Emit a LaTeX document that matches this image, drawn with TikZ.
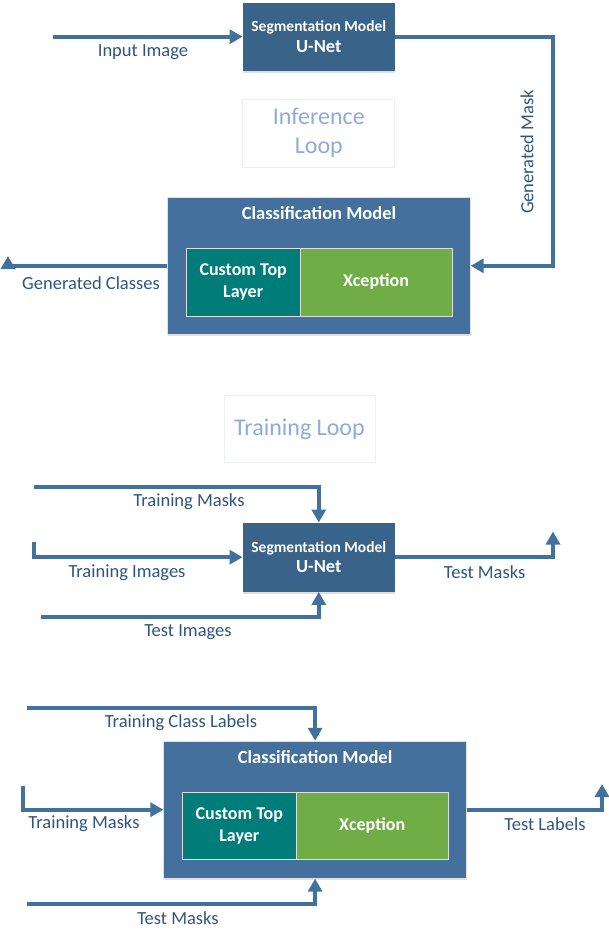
\documentclass[tikz,border=0pt]{standalone}
\usepackage{fontspec}
\setmainfont{Carlito}
\usetikzlibrary{arrows.meta,shadows}
\definecolor{segblue}{RGB}{58,99,138}
\definecolor{clsblue}{RGB}{67,112,157}
\definecolor{linecol}{RGB}{65,113,156}
\definecolor{tealc}{RGB}{0,124,121}
\definecolor{greenc}{RGB}{112,173,71}
\definecolor{labcol}{RGB}{46,84,130}
\definecolor{loopcol}{RGB}{143,170,220}
\definecolor{loopborder}{RGB}{236,239,243}
\tikzset{
  segbox/.style={fill=segblue, draw=none, minimum width=152pt, minimum height=68pt, inner sep=0pt,
    text=white, font=\bfseries, align=center,
    drop shadow={shadow xshift=0pt, shadow yshift=-2pt, fill=black!25, opacity=0.5}},
  clsbox/.style={fill=clsblue, draw=black!12, line width=0.6pt, minimum width=302.8pt, minimum height=137pt, inner sep=0pt,
    drop shadow={shadow xshift=0pt, shadow yshift=-2pt, fill=black!25, opacity=0.5}},
  tealbox/.style={fill=tealc, draw=white!75!gray, line width=0.8pt, minimum width=113.8pt, minimum height=68pt, inner sep=0pt,
    text=white, font=\fontsize{18}{22}\selectfont\bfseries, align=center},
  greenbox/.style={fill=greenc, draw=white!75!gray, line width=0.8pt, minimum width=152pt, minimum height=68pt, inner sep=0pt,
    text=white, font=\fontsize{18}{22}\selectfont\bfseries, align=center},
  loopbox/.style={draw=loopborder, line width=1pt, fill=white, inner sep=0pt, text=loopcol,
    font=\fontsize{24}{29}\selectfont, align=center},
  lab/.style={text=labcol, font=\fontsize{18.5}{20}\selectfont, inner sep=0pt},
  cltitle/.style={text=white, font=\fontsize{18.5}{20}\selectfont\bfseries, inner sep=0pt},
  conn/.style={draw=linecol, line width=4pt},
  arr/.style={conn, -{Triangle[length=13pt,width=14pt]}},
}
\newcommand{\segtext}{\fontsize{15.5}{20}\selectfont Segmentation Model\\[5pt]\fontsize{18.5}{20}\selectfont U-Net}
\begin{document}
\begin{tikzpicture}[x=1pt,y=-1pt]
\useasboundingbox (0,0) rectangle (608,940);
% ---------- Inference loop ----------
\node[segbox] (seg1) at (318.8,36.7) {\segtext};
\node[loopbox, minimum width=152pt, minimum height=68pt] (inf) at (318.8,133) {Inference\\Loop};
\node[clsbox] (cls1) at (319,265.8) {};
\node[cltitle] (cls1t) at (319,213.3) {Classification Model};
\node[tealbox] (teal1) at (243.2,282) {Custom Top\\Layer};
\node[greenbox] (green1) at (376,282) {Xception};

\coordinate (in1) at (52.6,36.7);
\coordinate (gm1) at (553,36.7);
\coordinate (gm2) at (553,265.8);
\coordinate (gc1) at (8,265.8);
\coordinate (gc2) at (8,256);
\draw[arr] (in1) -- (seg1.west);
\draw[arr] (seg1.east) -- (gm1) -- (gm2) -- (cls1.east);
\draw[arr] (cls1.west) -- (gc1) -- (gc2);
\node[lab] (l1) at (143,52) {Input Image};
\node[lab, rotate=90] (l2) at (527,152) {Generated Mask};
\node[lab] (l3) at (91,283) {Generated Classes};

% ---------- Training loop ----------
\node[loopbox, minimum width=151pt, minimum height=67.7pt] (tr) at (299.5,428.9) {Training Loop};
\node[segbox, minimum height=69pt] (seg2) at (318.8,557.2) {\segtext};

\coordinate (tm1) at (34,487.3);
\coordinate (tm2) at (318.8,487.3);
\coordinate (ti1) at (34.3,541.7);
\coordinate (ti2) at (34.3,557.2);
\coordinate (te1) at (41,617.3);
\coordinate (te2) at (318.8,617.3);
\coordinate (to1) at (553,557.2);
\coordinate (to2) at (553,531.5);
\draw[arr] (tm1) -- (tm2) -- (seg2.north);
\draw[arr] (ti1) -- (ti2) -- (seg2.west);
\draw[arr] (te1) -- (te2) -- (seg2.south);
\draw[arr] (seg2.east) -- (to1) -- (to2);
\node[lab] (l4) at (189,502) {Training Masks};
\node[lab] (l5) at (127,572.3) {Training Images};
\node[lab] (l6) at (188,632.3) {Test Images};
\node[lab] (l7) at (484.6,572.3) {Test Masks};

\node[clsbox, minimum height=137.3pt] (cls2) at (315.1,809.7) {};
\node[cltitle] (cls2t) at (315.1,757.3) {Classification Model};
\node[tealbox, minimum height=67.3pt] (teal2) at (239.3,825.7) {Custom Top\\Layer};
\node[greenbox, minimum height=67.3pt] (green2) at (372.2,825.7) {Xception};

\coordinate (cl1) at (26.5,707.7);
\coordinate (cl2) at (315.1,707.7);
\coordinate (cm1) at (22.6,786);
\coordinate (cm2) at (22.6,809.7);
\coordinate (ct1) at (26.5,904);
\coordinate (ct2) at (315.1,904);
\coordinate (co1) at (602,809.7);
\coordinate (co2) at (602,784);
\draw[arr] (cl1) -- (cl2) -- (cls2.north);
\draw[arr] (cm1) -- (cm2) -- (cls2.west);
\draw[arr] (ct1) -- (ct2) -- (cls2.south);
\draw[arr] (cls2.east) -- (co1) -- (co2);
\node[lab] (l8) at (181,722.7) {Training Class Labels};
\node[lab] (l9) at (84,824) {Training Masks};
\node[lab] (l10) at (178,918.3) {Test Masks};
\node[lab] (l11) at (545,824) {Test Labels};
\end{tikzpicture}
\end{document}
